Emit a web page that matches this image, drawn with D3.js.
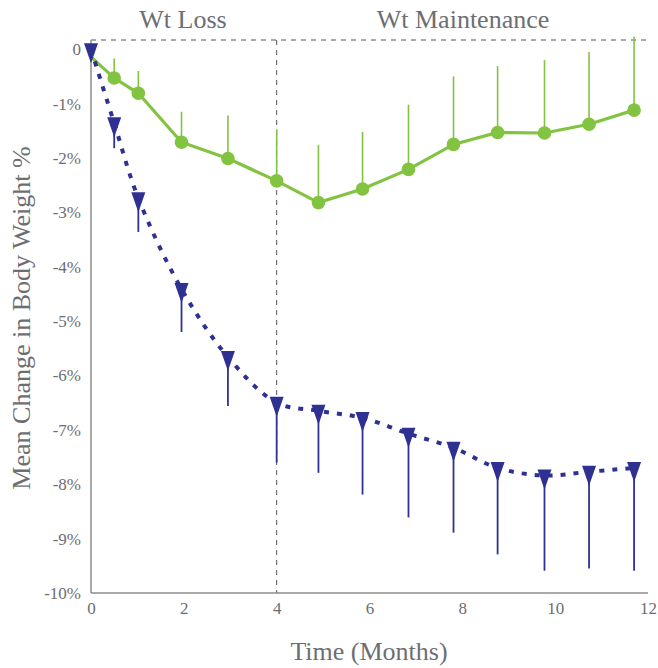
<!DOCTYPE html>
<meta charset="utf-8">
<style>
  body { margin: 0; background: #fff; }
  text { font-family: 'Liberation Serif', serif; fill: #6d6e71; }
  .tick-label { font-size: 17px; }
  .title { font-size: 26px; }
</style>
<script src="https://d3js.org/d3.v7.min.js"></script>
<svg width="658" height="668"></svg>
<script>
// months for every point
var months = [0, 0.5, 1.02, 1.95, 2.95, 4.0, 4.9, 5.85, 6.84, 7.81, 8.76, 9.77, 10.73, 11.7];
// green series (mean and upper error)
var greenMean = [-0.14, -0.53, -0.81, -1.71, -2.01, -2.42, -2.82, -2.57, -2.21, -1.75, -1.53, -1.54, -1.38, -1.12];
var greenUpper = [null, -0.17, -0.40, -1.15, -1.22, -1.47, -1.76, -1.52, -1.02, -0.50, -0.31, -0.20, -0.05, 0.23];
// blue series (mean and lower error)
var blueMean = [0, -1.36, -2.74, -4.41, -5.66, -6.50, -6.65, -6.78, -7.07, -7.33, -7.70, -7.84, -7.77, -7.70];
var blueLower = [null, -1.82, -3.36, -5.20, -6.56, -7.60, -7.79, -8.19, -8.61, -8.89, -9.29, -9.59, -9.55, -9.59];

var xTicks = [0, 2, 4, 6, 8, 10, 12];
var yTicks = [0, -1, -2, -3, -4, -5, -6, -7, -8, -9, -10];
var phases = [{name: "Wt Loss", from: 0, to: 4}, {name: "Wt Maintenance", from: 4, to: 12}];

var green = "#82c341", blue = "#2e3192", axisGrey = "#8c8c8c";

var svg = d3.select("svg");
var x = d3.scaleLinear().domain([0, 12]).range([91, 648]);
var y = d3.scaleLinear().domain([-10, 0.17]).range([593, 40]);

// dashed reference lines
svg.append("line")
  .attr("x1", x(0)).attr("x2", x(12))
  .attr("y1", y(0.17)).attr("y2", y(0.17))
  .attr("stroke", "#555").attr("stroke-width", 1).attr("stroke-dasharray", "5,5");
svg.append("line")
  .attr("x1", x(4)).attr("x2", x(4))
  .attr("y1", y(0.17)).attr("y2", y(-10))
  .attr("stroke", "#555").attr("stroke-width", 1).attr("stroke-dasharray", "5,5");

// axes
var xAxis = svg.append("g").attr("transform", "translate(0," + y(-10) + ")")
  .call(d3.axisBottom(x).tickValues(xTicks).tickSize(0).tickPadding(9).tickFormat(d3.format("d")));
var yAxis = svg.append("g").attr("transform", "translate(" + x(0) + ",0)")
  .call(d3.axisLeft(y).tickValues(yTicks).tickSize(0).tickPadding(10)
    .tickFormat(function(d) { return d === 0 ? "0" : d + "%"; }));
svg.selectAll(".domain").attr("stroke", axisGrey).attr("stroke-width", 1.5);
xAxis.select(".domain").attr("d", "M" + x(0) + ",0H" + x(12));
yAxis.select(".domain").attr("d", "M0," + y(0.17) + "V" + y(-10));
svg.selectAll(".tick text").attr("class", "tick-label").attr("font-family", null).attr("font-size", null)
  .style("fill", "#6d6e71");

// phase labels
svg.selectAll(".phase").data(phases).enter().append("text")
  .attr("class", "title")
  .attr("x", function(d) { return d.name === "Wt Loss" ? 183 : 463; })
  .attr("y", 28)
  .attr("text-anchor", "middle")
  .text(function(d) { return d.name; });

// axis titles
svg.append("text").attr("class", "title")
  .attr("x", 369).attr("y", 660).attr("text-anchor", "middle")
  .text("Time (Months)");
svg.append("text").attr("class", "title")
  .attr("transform", "translate(30,318) rotate(-90)").attr("text-anchor", "middle")
  .text("Mean Change in Body Weight %");

var gData = months.map(function(m, i) { return {t: m, v: greenMean[i], e: greenUpper[i]}; });
var bData = months.map(function(m, i) { return {t: m, v: blueMean[i], e: blueLower[i]}; });

// green error bars
svg.selectAll(".gerr").data(gData.filter(function(d) { return d.e !== null; })).enter().append("line")
  .attr("x1", function(d) { return x(d.t); }).attr("x2", function(d) { return x(d.t); })
  .attr("y1", function(d) { return y(d.v); }).attr("y2", function(d) { return y(d.e); })
  .attr("stroke", green).attr("stroke-width", 1.6);

// green line
svg.append("path").datum(gData)
  .attr("fill", "none").attr("stroke", green).attr("stroke-width", 3.2)
  .attr("d", d3.line().x(function(d) { return x(d.t); }).y(function(d) { return y(d.v); }));

svg.selectAll(".gdot").data(gData.slice(1)).enter().append("circle")
  .attr("cx", function(d) { return x(d.t); }).attr("cy", function(d) { return y(d.v); })
  .attr("r", 6.8).attr("fill", green);

// blue error bars
svg.selectAll(".berr").data(bData.filter(function(d) { return d.e !== null; })).enter().append("line")
  .attr("x1", function(d) { return x(d.t); }).attr("x2", function(d) { return x(d.t); })
  .attr("y1", function(d) { return y(d.v); }).attr("y2", function(d) { return y(d.e); })
  .attr("stroke", blue).attr("stroke-width", 1.8);

// blue dotted smooth line
svg.append("path").datum(bData)
  .attr("fill", "none").attr("stroke", blue).attr("stroke-width", 4)
  .attr("stroke-dasharray", "5,8")
  .attr("d", d3.line().curve(d3.curveCatmullRom.alpha(0.5))
    .x(function(d) { return x(d.t); }).y(function(d) { return y(d.v); }));

// down triangles
svg.selectAll(".btri").data(bData).enter().append("path")
  .attr("transform", function(d) { return "translate(" + x(d.t) + "," + y(d.v) + ")"; })
  .attr("d", "M-7,-6L7,-6L0,14Z")
  .attr("fill", blue);
</script>
